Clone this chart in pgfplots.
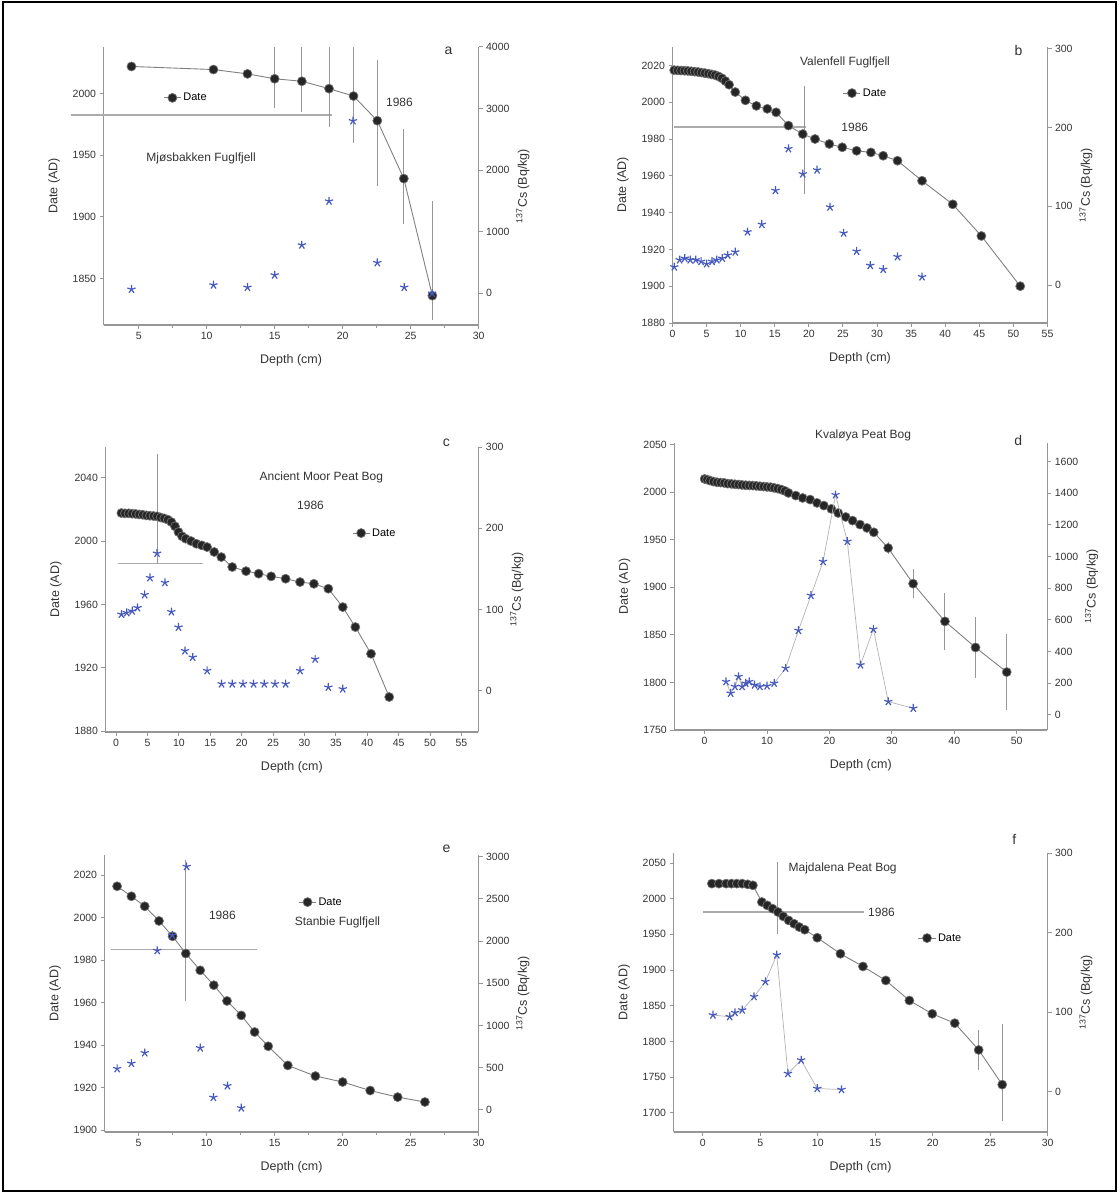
\documentclass[border=0pt]{standalone}
\usepackage{fontspec}
\setmainfont{Liberation Sans}
\usepackage{pgfplots}
\pgfplotsset{compat=1.18}
\definecolor{csblue}{RGB}{70,90,190}
\definecolor{axgray}{RGB}{150,150,150}
\tikzset{
  lbl/.style={font=\fontsize{12}{13}\selectfont, text=black!80},
  letter/.style={font=\fontsize{14}{15}\selectfont, text=black!80},
}
\pgfplotsset{
  common/.style={scale only axis, clip mode=individual,
    axis line style={axgray, line width=1.3pt}, tick style={axgray, line width=1pt},
    tick align=outside, major tick length=4pt, minor tick length=2.5pt,
    tick label style={font=\fontsize{10.5}{12}\selectfont, text=black!80},
    label style={font=\fontsize{12.5}{14}\selectfont, text=black!80},
    /pgf/number format/assume math mode=true, /pgf/number format/1000 sep={}, scaled ticks=false},
  leftax/.style={common, axis x line*=bottom, axis y line*=left, xlabel={Depth (cm)}, ylabel={Date (AD)},
    xlabel shift=8pt, ylabel shift=6pt,
    legend style={draw=none, fill=none, font=\fontsize{11}{12}\selectfont, anchor=west}},
  rightax/.style={common, axis x line=none, axis y line*=right, ylabel={\textsuperscript{137}Cs (Bq/kg)}},
  dateplot/.style={color=gray, line width=0.9pt, mark=*, mark size=4.5pt, mark options={fill=black!85, draw=black!55, line width=0.7pt, solid}},
  ebar/.style={error bars/.cd, y dir=both, y explicit, error bar style={axgray, line width=0.9pt}, error mark=none},
  csplot/.style={only marks, mark=star, mark size=4.3pt, mark options={draw=csblue, line width=1.2pt}},
  csline/.style={draw=gray!60, line width=0.7pt, mark=star, mark size=4.3pt, mark options={draw=csblue, line width=1.2pt, solid}},
  refline/.style={axgray!80, line width=1.6pt, forget plot},
  thinline/.style={axgray, line width=0.9pt, forget plot},
}
\begin{document}
\begin{tikzpicture}
\useasboundingbox (0pt,0pt) rectangle (1119pt,-1193pt);
\draw[black, line width=2pt] (3pt,-2pt) rectangle (1116pt,-1191pt);

%% ---------------- panel a
\begin{axis}[leftax, at={(103.6pt,-47pt)}, anchor=north west, width=375pt, height=278pt,
  xmin=2.42, xmax=30, ymin=1812.2, ymax=2037.8, xtick={5,10,...,30}, minor x tick num=1,
  ytick={1850,1900,1950,2000}, legend style={at={(0.151,0.817)}}]
\draw[axgray!80, line width=1.6pt] (axis cs:0,1982.4) -- (axis cs:19.2,1982.4);
\addplot[dateplot, ebar] table[x=d, y=t, y error plus=ep, y error minus=em] {
d t ep em
4.47 2022 0 0
10.5 2019.5 0 0
13.0 2016 0 0
15.0 2012 26 24
17.0 2010 27.6 25
19.0 2004 34 31
20.8 1998 40 38
22.55 1978 49 53
24.5 1931 40.5 36.5
26.6 1836 77 20
};
\addlegendentry{Date}
\node[lbl] at (rel axis cs:0.789,0.802) {1986};
\node[lbl] at (rel axis cs:0.26,0.601) {Mjøsbakken Fuglfjell};
\node[letter] at (rel axis cs:0.92,0.986) {a};
\end{axis}
\begin{axis}[rightax, at={(103.6pt,-47pt)}, anchor=north west, width=375pt, height=278pt,
  xmin=2.42, xmax=30, ymin=-514, ymax=4000, ytick={0,1000,2000,3000,4000}]
\addplot[csplot] coordinates {(4.47,65) (10.5,135) (13.0,97) (15.0,297) (17.0,784) (19.0,1497) (20.76,2800) (22.55,497) (24.53,97) (26.58,0)};
\end{axis}

%% ---------------- panel b
\begin{axis}[leftax, at={(672.5pt,-47pt)}, anchor=north west, width=375pt, height=276pt,
  xmin=0, xmax=55, ymin=1880, ymax=2030, xtick={0,5,...,55},
  ytick={1880,1900,...,2020}, legend style={at={(0.446,0.833)}}]
\addplot[refline] coordinates {(0.26,1986.4) (19.6,1986.4)};
\addplot[thinline] coordinates {(19.4,2009) (19.4,1950)};
\addplot[dateplot] table[x=d, y=t] {
d t
0.25 2017.4
0.75 2017.3
1.25 2017.2
1.75 2017.1
2.25 2017.0
2.75 2016.8
3.25 2016.6
3.75 2016.4
4.25 2016.1
4.75 2015.8
5.25 2015.5
5.75 2015.1
6.25 2014.7
6.75 2014.0
7.25 2013.0
7.75 2011.5
8.3 2009.5
9.2 2005.5
10.7 2001.0
12.3 1998.0
13.9 1996.4
15.2 1994.5
17.0 1987.3
19.1 1982.7
20.9 1980.0
23.0 1977.3
24.9 1975.5
27.0 1973.6
29.1 1972.7
30.9 1970.9
33.0 1968.2
36.6 1957.3
41.1 1944.5
45.3 1927.3
51.0 1900.0
};
\addlegendentry{Date}
\node[lbl] at (rel axis cs:0.486,0.707) {1986};
\node[lbl] at (rel axis cs:0.46,0.946) {Valenfell Fuglfjell};
\node[letter] at (rel axis cs:0.923,0.989) {b};
\end{axis}
\begin{axis}[rightax, at={(672.5pt,-47pt)}, anchor=north west, width=375pt, height=276pt,
  xmin=0, xmax=55, ymin=-48, ymax=302, ytick={0,100,200,300}]
\addplot[csplot] coordinates {(0.26,23) (1.05,32) (1.8,34) (2.6,32) (3.4,32) (4.2,30) (5.0,27) (5.8,30) (6.5,32) (7.3,34) (8.1,38) (9.2,42)
 (11.0,67.5) (13.1,77) (15.1,120) (17.0,173) (19.1,141) (21.2,146) (23.1,99) (25.1,66) (27.0,43) (29.0,25) (30.9,20) (33.0,36) (36.6,10.5)};
\end{axis}

%% ---------------- panel c
\begin{axis}[leftax, at={(105.4pt,-447pt)}, anchor=north west, width=373pt, height=285pt,
  xmin=-1.7, xmax=57.7, ymin=1879.4, ymax=2059.4, xtick={0,5,...,55},
  ytick={1880,1920,1960,2000,2040}, legend style={at={(0.653,0.698)}}]
\addplot[refline] coordinates {(0.28,1985.7) (13.9,1985.7)};
\addplot[thinline] coordinates {(6.53,2055) (6.53,1985.7)};
\addplot[dateplot] table[x=d, y=t] {
d t
0.85 2017.7
1.42 2017.5
1.99 2017.5
2.56 2017.3
3.13 2017.1
3.69 2016.8
4.26 2016.6
4.83 2016.2
5.40 2016.0
5.97 2015.8
6.53 2015.6
7.10 2014.9
7.67 2014.3
8.24 2013.5
8.81 2012.0
9.38 2009.3
9.94 2005.7
10.51 2003.0
11.08 2001.5
11.93 2000.0
12.78 1998.3
13.64 1997.3
14.49 1996.2
15.63 1993.1
16.76 1989.9
18.5 1983.6
20.7 1981.0
22.7 1979.4
24.7 1977.7
27.0 1976.2
29.3 1974.1
31.5 1973.0
33.8 1969.9
36.1 1958.3
38.1 1945.7
40.6 1928.8
43.5 1901.5
};
\addlegendentry{Date}
\node[lbl] at (rel axis cs:0.55,0.796) {1986};
\node[lbl] at (rel axis cs:0.579,0.895) {Ancient Moor Peat Bog};
\node[letter] at (rel axis cs:0.914,1.014) {c};
\end{axis}
\begin{axis}[rightax, at={(105.4pt,-447pt)}, anchor=north west, width=373pt, height=285pt,
  xmin=-1.7, xmax=57.7, ymin=-51, ymax=300, ytick={0,100,200,300}]
\addplot[csplot] coordinates {(0.85,93.9) (1.70,95.9) (2.56,98) (3.41,102) (4.55,118) (5.40,139) (6.53,169) (7.78,133) (8.81,97) (9.94,78) (10.97,49) (12.2,41)
 (14.5,24.5) (16.8,8.2) (18.5,8.2) (20.2,8.2) (21.9,8.2) (23.6,8.2) (25.3,8.2) (27.0,8.2) (29.3,24.5) (31.7,38.8) (33.8,4.1) (36.1,2)};
\end{axis}

%% ---------------- panel d
\begin{axis}[leftax, at={(674.3pt,-443pt)}, anchor=north west, width=373pt, height=287pt,
  xmin=-4.86, xmax=54.9, ymin=1750, ymax=2051.8, xtick={0,10,...,50},
  ytick={1750,1800,...,2050}]
\addplot[dateplot, ebar] table[x=d, y=t, y error plus=e, y error minus=e] {
d t e
0 2014.0 0
0.4 2013.3 0
0.86 2012.3 0
1.43 2011.2 0
2.0 2010.5 0
2.57 2010.2 0
3.14 2009.8 0
3.71 2009.1 0
4.29 2008.8 0
4.86 2008.4 0
5.43 2008.1 0
6.0 2007.7 0
6.57 2007.4 0
7.14 2007.2 0
7.71 2007.0 0
8.29 2006.7 0
8.86 2006.3 0
9.43 2006.0 0
10.0 2005.6 0
10.57 2005.3 0
11.14 2004.6 0
11.71 2003.9 0
12.29 2002.8 0
12.86 2001.4 0
13.43 1999.3 0
14.6 1996.5 0
15.7 1994.0 0
16.9 1992.3 0
18.0 1988.8 0
19.1 1986.0 0
20.3 1982.5 0
21.4 1978.2 0
22.6 1974.0 0
23.7 1970.2 0
24.9 1966.0 0
26.0 1962.5 0
27.1 1957.9 0
29.4 1941.4 6
33.4 1903.9 15
38.5 1864.2 30
43.4 1836.8 32
48.4 1810.9 40
};
\node[lbl] at (rel axis cs:0.506,1.028) {Kvaløya Peat Bog};
\node[letter] at (rel axis cs:0.922,1.007) {d};
\end{axis}
\begin{axis}[rightax, at={(674.3pt,-443pt)}, anchor=north west, width=373pt, height=287pt,
  xmin=-4.86, xmax=54.9, ymin=-95, ymax=1716, ytick={0,200,...,1600}]
\addplot[csline] coordinates {(3.43,210) (4.17,137) (4.86,179) (5.43,242) (6.0,179) (6.57,200) (7.14,210) (8.0,189) (8.86,179) (10.0,183) (11.14,200)
 (12.97,295) (15.03,533) (17.03,754) (18.97,968) (20.97,1389) (22.86,1095) (24.97,316) (27.03,541) (29.43,84) (33.43,42)};
\end{axis}

%% ---------------- panel e
\begin{axis}[leftax, at={(104.6pt,-855pt)}, anchor=north west, width=374pt, height=277pt,
  xmin=2.5, xmax=30, ymin=1899.2, ymax=2029.4, xtick={5,10,...,30}, minor x tick num=1,
  ytick={1900,1920,...,2020}, legend style={at={(0.51,0.83)}}]
\addplot[refline] coordinates {(3.0,1984.9) (13.7,1984.9)};
\addplot[thinline] coordinates {(8.47,2027) (8.47,1961)};
\addplot[dateplot] table[x=d, y=t] {
d t
3.42 2014.7
4.47 2010.0
5.45 2005.3
6.5 1998.4
7.5 1991.2
8.47 1983.1
9.53 1975.2
10.53 1968.2
11.5 1960.8
12.55 1954.0
13.53 1946.2
14.53 1939.5
15.97 1930.5
18.0 1925.5
20.0 1922.7
22.03 1918.7
24.05 1915.6
26.05 1913.3
};
\addlegendentry{Date}
\node[lbl] at (rel axis cs:0.315,0.783) {1986};
\node[lbl, anchor=west] at (rel axis cs:0.499,0.755) {Stanbie Fuglfjell};
\node[letter] at (rel axis cs:0.914,1.022) {e};
\end{axis}
\begin{axis}[rightax, at={(104.6pt,-855pt)}, anchor=north west, width=374pt, height=277pt,
  xmin=2.5, xmax=30, ymin=-262, ymax=3020, ytick={0,500,...,3000}]
\addplot[csplot] coordinates {(3.42,488) (4.47,551) (5.45,676) (6.37,1887) (7.47,2070) (8.53,2883) (9.53,734) (10.5,148) (11.53,285) (12.55,23)};
\end{axis}

%% ---------------- panel f
\begin{axis}[leftax, at={(673.6pt,-853pt)}, anchor=north west, width=374pt, height=279pt,
  xmin=-2.55, xmax=30, ymin=1673, ymax=2064, xtick={0,5,...,30},
  ytick={1700,1750,...,2050}, legend style={at={(0.645,0.695)}}]
\addplot[refline] coordinates {(0,1981.3) (14.0,1981.3)};
\addplot[thinline] coordinates {(6.53,2051.5) (6.53,1950)};
\addplot[dateplot, ebar] table[x=d, y=t, y error plus=ep, y error minus=em] {
d t ep em
0.78 2021.1 0 0
1.40 2021.1 0 0
2.02 2021.1 0 0
2.49 2021.1 0 0
2.95 2021.1 0 0
3.42 2021.1 0 0
3.89 2020.1 0 0
4.35 2018.7 0 0
5.13 1995.3 0 0
5.60 1990.6 0 0
6.06 1986.0 0 0
6.53 1981.3 0 0
6.99 1975.2 0 0
7.46 1969.6 0 0
7.93 1964.9 0 0
8.39 1960.2 0 0
8.86 1956.5 0 0
9.95 1945.3 0 0
11.97 1922.8 0 0
13.93 1905.0 0 0
15.92 1885.4 0 0
17.97 1857.3 0 0
19.96 1838.6 0 0
21.92 1825.5 0 0
24.0 1788.0 28 28
26.05 1739.4 85 51
};
\addlegendentry{Date}
\node[lbl] at (rel axis cs:0.556,0.789) {1986};
\node[lbl, anchor=west] at (rel axis cs:0.298,0.946) {Majdalena Peat Bog};
\node[letter] at (rel axis cs:0.911,1.047) {f};
\end{axis}
\begin{axis}[rightax, at={(673.6pt,-853pt)}, anchor=north west, width=374pt, height=279pt,
  xmin=-2.55, xmax=30, ymin=-50.4, ymax=300, ytick={0,100,200,300}]
\addplot[csline] coordinates {(0.87,96.5) (2.33,94.4) (2.80,99.5) (3.42,102.8) (4.45,119.6) (5.44,138.5) (6.43,172) (7.40,23) (8.55,39.9) (9.95,4.2) (12.06,2.9)};
\end{axis}
\end{tikzpicture}
\end{document}
